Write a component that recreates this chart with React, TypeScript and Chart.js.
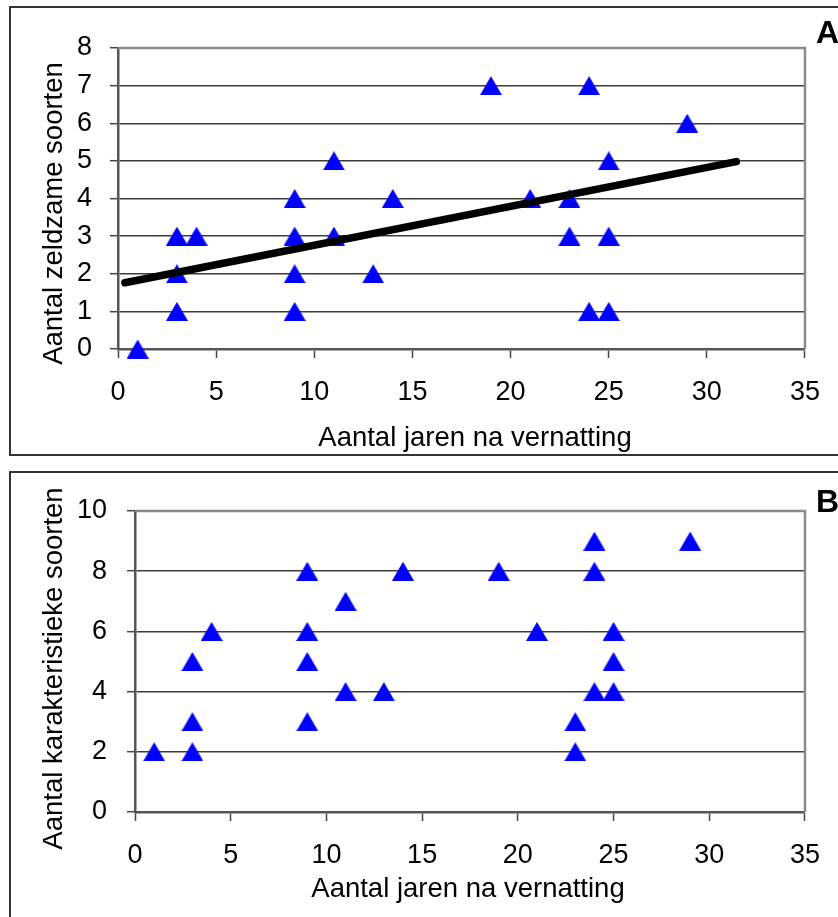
import React, { useEffect, useRef } from "react";
import { Chart, registerables } from "chart.js";

Chart.register(...registerables);

// ---------- data ----------
const xTickMin = 0;
const xTickMax = 35;
const xTickStep = 5;

// Panel A: rare species vs years after rewetting
const yearsA = [1, 3, 3, 3, 4, 9, 9, 9, 9, 11, 11, 13, 14, 19, 21, 23, 23, 24, 24, 25, 25, 25, 29];
const rareA = [0, 3, 2, 1, 3, 4, 3, 2, 1, 5, 3, 2, 4, 7, 4, 4, 3, 7, 1, 5, 3, 1, 6];
const trendX = [0.35, 31.5];
const trendY = [1.76, 4.98];
const yMaxA = 8;
const yStepA = 1;

// Panel B: characteristic species vs years after rewetting
const yearsB = [1, 3, 3, 3, 4, 9, 9, 9, 9, 11, 11, 13, 14, 19, 21, 23, 23, 24, 24, 24, 25, 25, 25, 29];
const charB = [2, 2, 3, 5, 6, 8, 6, 5, 3, 7, 4, 4, 8, 8, 6, 3, 2, 9, 8, 4, 6, 5, 4, 9];
const yMaxB = 10;
const yStepB = 2;

const xTitle = "Aantal jaren na vernatting";
const yTitleA = "Aantal zeldzame soorten";
const yTitleB = "Aantal karakteristieke soorten";
const panelA = "A";
const panelB = "B";

const FONT = "'Liberation Sans', Arial, sans-serif";
const BLUE = "#0000FF";

function makeTriangle(): HTMLCanvasElement {
  const c = document.createElement("canvas");
  c.width = 22;
  c.height = 19;
  const g = c.getContext("2d")!;
  g.fillStyle = BLUE;
  g.beginPath();
  g.moveTo(11, 0);
  g.lineTo(22, 19);
  g.lineTo(0, 19);
  g.closePath();
  g.fill();
  return c;
}

type TextItem = { text: string; x: number; y: number; rot?: number; font: string; align: CanvasTextAlign };

const framePlugin = {
  id: "frame",
  beforeDatasetsDraw(chart: any) {
    const { ctx, chartArea } = chart;
    const { left, top, right, bottom } = chartArea;
    ctx.save();
    ctx.strokeStyle = "#8a8a8a";
    ctx.lineWidth = 2.5;
    ctx.beginPath();
    ctx.moveTo(left, top);
    ctx.lineTo(right, top);
    ctx.lineTo(right, bottom);
    ctx.stroke();
    ctx.restore();
  },
  afterDraw(chart: any) {
    const texts: TextItem[] = chart.options.plugins.frame?.texts || [];
    const ctx = chart.ctx;
    for (const t of texts) {
      ctx.save();
      ctx.translate(t.x, t.y);
      if (t.rot) ctx.rotate(t.rot);
      ctx.font = t.font;
      ctx.fillStyle = "#000";
      ctx.textAlign = t.align;
      ctx.textBaseline = "alphabetic";
      ctx.fillText(t.text, 0, 0);
      ctx.restore();
    }
  },
};

function buildConfig(opts: {
  xs: number[];
  ys: number[];
  yMax: number;
  yStep: number;
  areaLeft: number;
  areaTop: number;
  areaBottom: number;
  canvasH: number;
  yPad: number;
  trend?: { x: number[]; y: number[] };
  texts: TextItem[];
}) {
  const tri = makeTriangle();
  const datasets: any[] = [];
  if (opts.trend) {
    datasets.push({
      data: opts.trend.x.map((x, i) => ({ x, y: opts.trend!.y[i] })),
      showLine: true,
      borderColor: "#000",
      borderWidth: 7.5,
      borderCapStyle: "round",
      pointRadius: 0,
      fill: false,
      clip: false,
    });
  }
  datasets.push({
    data: opts.xs.map((x, i) => ({ x, y: opts.ys[i] })),
    pointStyle: tri,
    pointRadius: 11,
    backgroundColor: BLUE,
    borderColor: BLUE,
    showLine: false,
    clip: false,
  });
  return {
    type: "scatter",
    data: { datasets },
    plugins: [framePlugin],
    options: {
      animation: false,
      responsive: false,
      events: [],
      layout: { padding: { left: 0, top: opts.areaTop, right: 838 - 812, bottom: 0 } },
      plugins: {
        legend: { display: false },
        tooltip: { enabled: false },
        frame: { texts: opts.texts },
      },
      scales: {
        x: {
          type: "linear",
          min: xTickMin,
          max: xTickMax,
          ticks: {
            stepSize: xTickStep,
            color: "#000",
            padding: 18,
            font: { family: FONT, size: 27 },
            maxRotation: 0,
          },
          grid: {
            drawOnChartArea: false,
            drawTicks: true,
            tickLength: 9,
            tickColor: "#444",
            tickWidth: 1.5,
          },
          border: { display: true, color: "#555", width: 2.5 },
          afterFit(scale: any) {
            scale.height = opts.canvasH - opts.areaBottom;
          },
        },
        y: {
          type: "linear",
          min: 0,
          max: opts.yMax,
          ticks: {
            stepSize: opts.yStep,
            color: "#000",
            padding: opts.yPad,
            font: { family: FONT, size: 27 },
          },
          grid: {
            color: "#3c3c3c",
            lineWidth: 1.4,
            drawTicks: true,
            tickLength: 8,
            tickColor: "#444",
            tickWidth: 1.5,
          },
          border: { display: true, color: "#555", width: 2.5 },
          afterFit(scale: any) {
            scale.width = opts.areaLeft;
          },
        },
      },
    },
  };
}

function Panel(props: { top: number; height: number; config: any }) {
  const ref = useRef<HTMLCanvasElement>(null);
  useEffect(() => {
    if (!ref.current) return;
    const chart = new Chart(ref.current, props.config);
    return () => chart.destroy();
  }, []);
  return (
    <canvas
      ref={ref}
      width={838}
      height={props.height}
      style={{ position: "absolute", left: 0, top: props.top, width: 838, height: props.height, display: "block" }}
    />
  );
}

export default function App() {
  const hA = 460;
  const topB = 460;
  const hB = 457;
  const titleFont = `27.5px ${FONT}`;
  const panelFont = `bold 32px ${FONT}`;

  const configA = buildConfig({
    xs: yearsA,
    ys: rareA,
    yMax: yMaxA,
    yStep: yStepA,
    areaLeft: 118,
    areaTop: 48,
    areaBottom: 349,
    canvasH: hA,
    yPad: 18,
    trend: { x: trendX, y: trendY },
    texts: [
      { text: yTitleA, x: 62, y: 213.5, rot: -Math.PI / 2, font: titleFont, align: "center" },
      { text: xTitle, x: 475, y: 446, font: titleFont, align: "center" },
      { text: panelA, x: 816, y: 43, font: panelFont, align: "left" },
    ],
  });

  const configB = buildConfig({
    xs: yearsB,
    ys: charB,
    yMax: yMaxB,
    yStep: yStepB,
    areaLeft: 135,
    areaTop: 511 - topB,
    areaBottom: 812 - topB,
    canvasH: hB,
    yPad: 20,
    texts: [
      { text: yTitleB, x: 62, y: 668.5 - topB, rot: -Math.PI / 2, font: titleFont, align: "center" },
      { text: xTitle, x: 468, y: 897 - topB, font: titleFont, align: "center" },
      { text: panelB, x: 816, y: 512 - topB, font: panelFont, align: "left" },
    ],
  });

  return (
    <div
      style={{
        position: "absolute",
        left: 0,
        top: 0,
        width: 838,
        height: 917,
        overflow: "hidden",
        background: "#fff",
      }}
    >
      <div
        style={{
          position: "absolute",
          left: 9,
          top: 6,
          width: 900,
          height: 450,
          border: "2px solid #333",
          boxSizing: "border-box",
        }}
      />
      <div
        style={{
          position: "absolute",
          left: 9,
          top: 471,
          width: 900,
          height: 500,
          border: "2px solid #333",
          boxSizing: "border-box",
        }}
      />
      <Panel top={0} height={hA} config={configA} />
      <Panel top={topB} height={hB} config={configB} />
    </div>
  );
}
